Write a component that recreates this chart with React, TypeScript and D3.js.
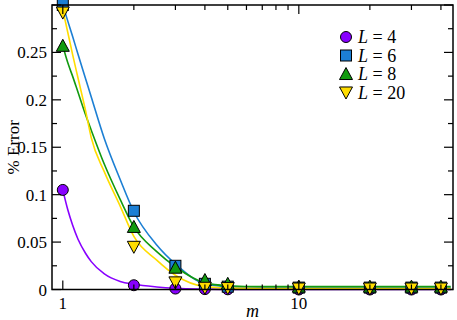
import * as d3 from "d3";

// measured m values
const mValues = [1, 2, 3, 4, 5, 10, 20, 30, 40];

// % error per system size L
const errL4 = [0.105, 0.0045, 0.001, 0.0004, 0.0002, 0, 0, 0, 0];
const errL6 = [0.3, 0.083, 0.025, 0.006, 0.003, 0.002, 0.002, 0.002, 0.002];
const errL8 = [0.257, 0.066, 0.023, 0.01, 0.006, 0.003, 0.003, 0.003, 0.003];
const errL20 = [0.292, 0.045, 0.0075, 0.0018, 0.0015, 0.001, 0.001, 0.001, 0.001];

// fitted curves
const fitM = [1, 1.05, 1.1, 1.16, 1.25, 1.32, 1.5, 1.75, 2, 2.5, 3, 4, 5, 7, 10, 44];
const fitL4 = [0.105, 0.084, 0.068, 0.053, 0.038, 0.0294, 0.0164, 0.0085, 0.0055, 0.0027, 0.0013, 0.0004, 0.0001, 0, 0, 0];
const fitL6 = [0.3, 0.283, 0.267, 0.248, 0.222, 0.203, 0.159, 0.116, 0.082, 0.047, 0.027, 0.006, 0.003, 0.002, 0.002, 0.002];
const fitL8 = [0.257, 0.239, 0.225, 0.208, 0.184, 0.168, 0.132, 0.095, 0.066, 0.04, 0.024, 0.007, 0.004, 0.003, 0.003, 0.003];
const fitL20 = [0.295, 0.271, 0.248, 0.223, 0.188, 0.16, 0.124, 0.088, 0.056, 0.031, 0.015, 0.003, 0.0015, 0.001, 0.001, 0.001];

const labels = ["4", "6", "8", "20"];
const colors = ["#8800ff", "#1c7fd4", "#119a0f", "#ffdd00"];
const shapes = ["circle", "square", "up", "down"];

const yTicks = [0, 0.05, 0.1, 0.15, 0.2, 0.25];
const xTicks = [1, 10];
const xMinor = [2, 3, 4, 5, 6, 7, 8, 9, 20, 30, 40];

const width = 457;
const height = 320;
const margin = { top: 5, right: 4, bottom: 30.5, left: 52 };
const font = "\"Liberation Serif\"";

function Marker({ shape, cx, cy, color }) {
  const r = 5.5;
  if (shape === "circle")
    return <circle cx={cx} cy={cy} r={r} fill={color} stroke="#000" strokeWidth={1} />;
  if (shape === "square")
    return <rect x={cx - r} y={cy - r} width={2 * r} height={2 * r} fill={color} stroke="#000" strokeWidth={1} />;
  const s = shape === "up" ? 1 : -1;
  const h = 6.5;
  const pts = [[cx, cy - s * h], [cx + h, cy + s * h * 0.85], [cx - h, cy + s * h * 0.85]];
  return <polygon points={pts.map(p => p.join(",")).join(" ")} fill={color} stroke="#000" strokeWidth={1} />;
}

export default function App() {
  const x = d3.scaleLog().domain([0.9, 45]).range([margin.left, width - margin.right]);
  const y = d3.scaleLinear().domain([0, 0.3]).range([height - margin.bottom, margin.top]);
  const x0 = margin.left, x1 = width - margin.right;
  const y0 = height - margin.bottom, y1 = margin.top;

  const series = [
    { pts: errL4, fit: fitL4 },
    { pts: errL6, fit: fitL6 },
    { pts: errL8, fit: fitL8 },
    { pts: errL20, fit: fitL20 }
  ];

  const line = d3.line()
    .x(d => x(d[0]))
    .y(d => y(d[1]))
    .curve(d3.curveMonotoneX);

  const major = 9, minor = 5;
  const yTickVals = d3.range(0, 0.3001, 0.025);

  return (
    <svg width={width} height={height} style={{ position: "absolute", left: 0, top: 0 }}>
      {series.map((s, i) => (
        <path key={"fit" + i} d={line(fitM.map((m, j) => [m, s.fit[j]]))}
          fill="none" stroke={colors[i]} strokeWidth={1.6} />
      ))}
      {series.map((s, i) => mValues.map((m, j) => (
        <Marker key={`m${i}-${j}`} shape={shapes[i]} cx={x(m)} cy={y(s.pts[j])} color={colors[i]} />
      )))}

      <rect x={x0} y={y1} width={x1 - x0} height={y0 - y1} fill="none" stroke="#000" strokeWidth={1.5} />

      <g stroke="#000" strokeWidth={1.2}>
        {yTickVals.map((v, i) => {
          const len = i % 2 === 0 ? major : minor;
          return (
            <g key={"yt" + i}>
              <line x1={x0} x2={x0 + len} y1={y(v)} y2={y(v)} />
              <line x1={x1} x2={x1 - len} y1={y(v)} y2={y(v)} />
            </g>
          );
        })}
        {xTicks.concat(xMinor).map(v => {
          const len = xTicks.includes(v) ? major : minor;
          return (
            <g key={"xt" + v}>
              <line x1={x(v)} x2={x(v)} y1={y0} y2={y0 - len} />
              <line x1={x(v)} x2={x(v)} y1={y1} y2={y1 + len} />
            </g>
          );
        })}
      </g>

      <g style={{ fontFamily: font }} fontSize={17}>
        {yTicks.map(v => (
          <text key={"yl" + v} x={x0 - 5} y={y(v) + 6} textAnchor="end">{String(v)}</text>
        ))}
        {xTicks.map(v => (
          <text key={"xl" + v} x={x(v)} y={y0 + 19} textAnchor="middle">{v}</text>
        ))}
        <text x={(x0 + x1) / 2} y={height - 3} textAnchor="middle" fontStyle="italic" fontSize={18}>m</text>
        <text transform={`translate(19,${(y0 + y1) / 2}) rotate(-90)`} textAnchor="middle">% Error</text>
      </g>

      <g style={{ fontFamily: font }} fontSize={18}>
        {labels.map((lab, i) => {
          const ly = 37 + i * 18.5;
          return (
            <g key={"lg" + i}>
              <Marker shape={shapes[i]} cx={346} cy={ly} color={colors[i]} />
              <text x={358} y={ly + 6}>
                <tspan fontStyle="italic">L</tspan>
                <tspan>{" = " + lab}</tspan>
              </text>
            </g>
          );
        })}
      </g>
    </svg>
  );
}
